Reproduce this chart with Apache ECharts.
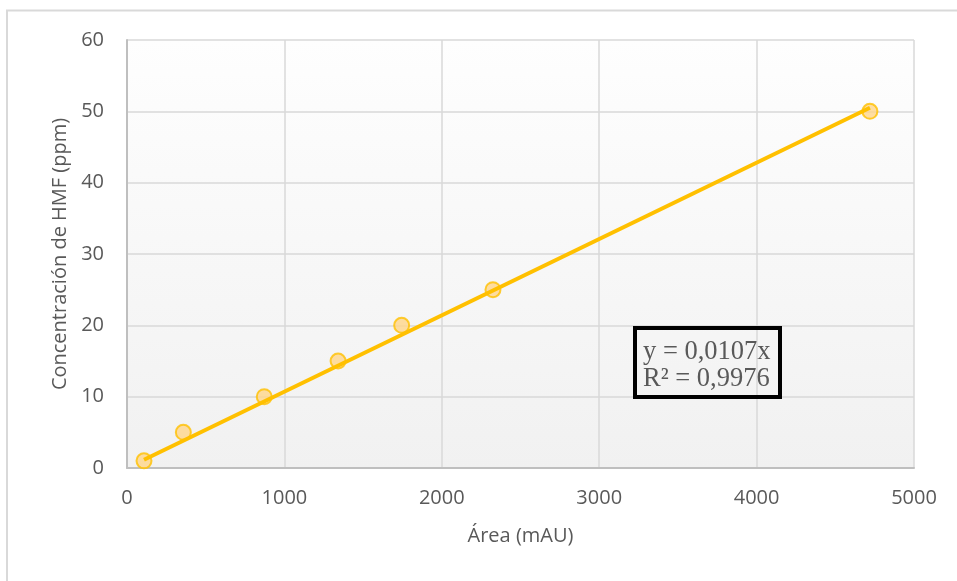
<!DOCTYPE html>
<html>
<head>
<meta charset="utf-8">
<script src="https://cdn.jsdelivr.net/npm/echarts@6/dist/echarts.min.js"></script>
<style>
  html, body { margin: 0; padding: 0; background: #ffffff; }
  #chart { width: 957px; height: 581px; }
</style>
</head>
<body>
<div id="chart"></div>
<script>
// Calibration points: peak area (mAU) vs. HMF concentration (ppm)
const areas = [108, 358, 872, 1341, 1745, 2325, 4720];
const concentrations = [1, 5, 10, 15, 20, 25, 50];

// Linear fit through the origin, as reported in the equation box
const slope = 0.0107;
const rSquared = '0,9976';
const equationLines = ['y = 0,0107x', 'R² = ' + rSquared];

const xTicks = { min: 0, max: 5000, interval: 1000 };
const yTicks = { min: 0, max: 60, interval: 10 };

const xTitle = 'Área (mAU)';
const yTitle = 'Concentración de HMF (ppm)';

const points = areas.map((a, i) => [a, concentrations[i]]);
const xStart = Math.min(...areas);
const xEnd = Math.max(...areas);
const trend = [[xStart, slope * xStart], [xEnd, slope * xEnd]];

const textGray = '#595959';
const font = 'Open Sans';

const chart = echarts.init(document.getElementById('chart'), null, { renderer: 'canvas' });

chart.setOption({
  animation: false,
  backgroundColor: '#ffffff',
  grid: {
    left: 127, top: 40, right: 43, bottom: 113,
    show: true,
    borderWidth: 0,
    backgroundColor: new echarts.graphic.LinearGradient(0, 0, 0, 1, [
      { offset: 0, color: '#fefefe' },
      { offset: 1, color: '#f1f1f1' }
    ])
  },
  xAxis: {
    type: 'value',
    min: xTicks.min, max: xTicks.max, interval: xTicks.interval,
    name: xTitle,
    nameLocation: 'middle',
    nameGap: 58,
    nameTextStyle: { color: textGray, fontFamily: font, fontSize: 20 },
    axisLine: { show: true, onZero: false, lineStyle: { color: '#bfbfbf', width: 2 } },
    axisTick: { show: false },
    axisLabel: {
      color: textGray, fontFamily: font, fontSize: 20, margin: 20,
      formatter: v => String(v)
    },
    splitLine: { show: true, lineStyle: { color: '#d9d9d9', width: 1.5 } }
  },
  yAxis: {
    type: 'value',
    min: yTicks.min, max: yTicks.max, interval: yTicks.interval,
    name: yTitle,
    nameLocation: 'middle',
    nameGap: 53,
    nameTextStyle: { color: textGray, fontFamily: font, fontSize: 20 },
    axisLine: { show: true, onZero: false, lineStyle: { color: '#bfbfbf', width: 2 } },
    axisTick: { show: false },
    axisLabel: {
      color: textGray, fontFamily: font, fontSize: 20, margin: 23,
      formatter: v => String(v)
    },
    splitLine: { show: true, lineStyle: { color: '#d9d9d9', width: 1.5 } }
  },
  series: [
    {
      name: 'Calibración',
      type: 'scatter',
      data: points,
      symbol: 'circle',
      symbolSize: 15,
      itemStyle: { color: '#ffd68a', borderColor: '#ffc000', borderWidth: 2 },
      z: 2
    },
    {
      name: 'Tendencia lineal',
      type: 'line',
      data: trend,
      symbol: 'none',
      lineStyle: { color: '#ffc000', width: 4 },
      z: 3
    }
  ],
  graphic: [
    {
      // outer chart frame (only the top and left edges fall inside the view)
      type: 'rect',
      shape: { x: 7, y: 10.5, width: 1200, height: 1200 },
      style: { fill: 'none', stroke: '#d9d9d9', lineWidth: 2 },
      silent: true,
      z: 0
    },
    {
      // equation label box
      type: 'rect',
      x: 635, y: 328,
      shape: { x: 0, y: 0, width: 145, height: 69 },
      style: { fill: 'none', stroke: '#000000', lineWidth: 4, lineJoin: 'miter' },
      silent: true,
      z: 10
    },
    {
      type: 'text',
      x: 643, y: 339,
      style: {
        text: equationLines.join('\n'),
        fill: textGray,
        fontFamily: 'Liberation Serif',
        fontSize: 26.5,
        lineHeight: 27
      },
      silent: true,
      z: 10
    }
  ]
});
</script>
</body>
</html>
